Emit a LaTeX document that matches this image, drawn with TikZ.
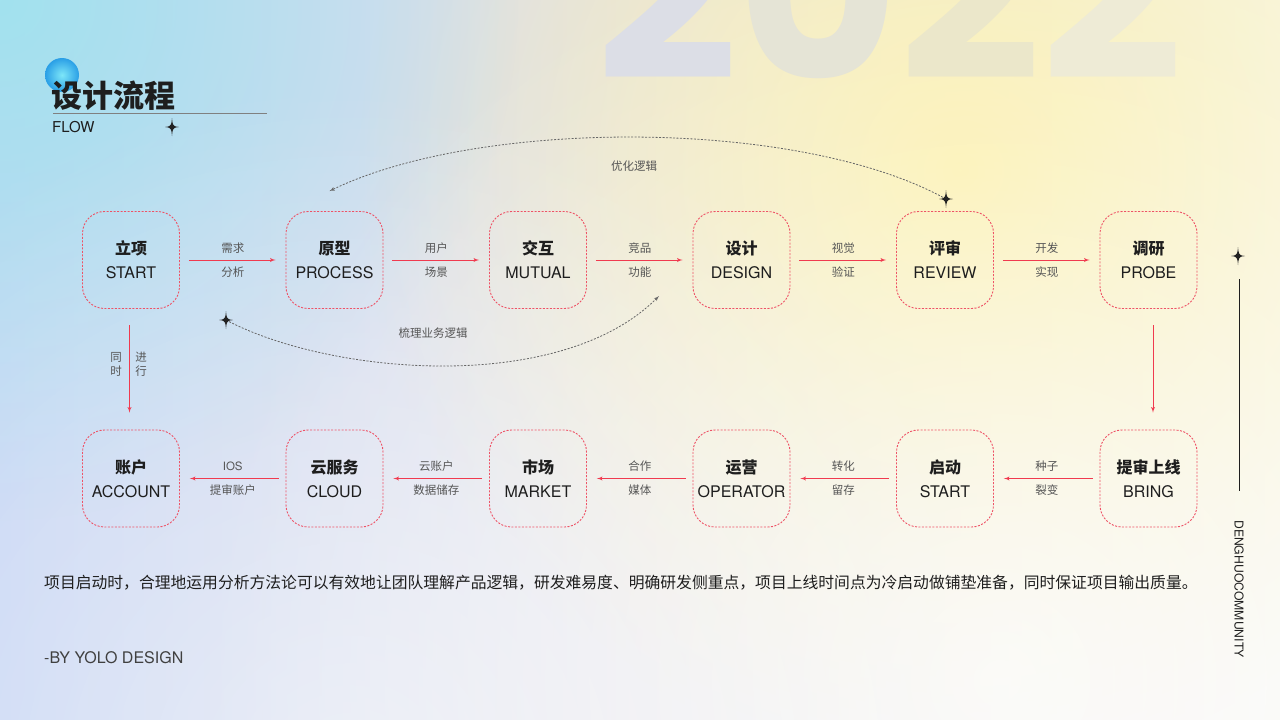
\documentclass[tikz,border=0pt]{standalone}
\usepackage{fontspec}
\setmainfont{TeX Gyre Heros}
\newfontfamily\cjk{Noto Sans CJK SC}
\newfontfamily\numfont{Poppins}
\usetikzlibrary{arrows,calc,fadings}

\definecolor{boxred}{HTML}{EE5266}
\definecolor{arrowred}{HTML}{F03A4F}
\definecolor{labelgray}{HTML}{555555}
\definecolor{textdark}{HTML}{1E1E1E}
\definecolor{dashgray}{HTML}{666666}
\definecolor{stardark}{HTML}{222222}
\definecolor{bgleft}{HTML}{C6D5F4}
\definecolor{bgmid}{HTML}{E3E2E9}
\definecolor{bgright}{HTML}{F7F7F3}
\definecolor{sunyellow}{HTML}{FCF0A8}
\definecolor{skycyan}{HTML}{A2E2EE}
\definecolor{ballin}{HTML}{7DE6F8}
\definecolor{ballout}{HTML}{2A9FE6}
\definecolor{wmA}{HTML}{DCDEE6}
\definecolor{wmB}{HTML}{E5E4D6}
\definecolor{wmC}{HTML}{EBE7CA}
\definecolor{wmD}{HTML}{EEEBD6}

\tikzfading[name=blob, inner color=transparent!0, outer color=transparent!100]

% four pointed sparkle
\newcommand{\spark}[1]{%
  \fill[stardark, shift={(#1)}] (0,-9) .. controls (0.8,-0.8) .. (7,0)
    .. controls (0.8,0.8) .. (0,9) .. controls (-0.8,0.8) .. (-7,0)
    .. controls (-0.8,-0.8) .. (0,-9) -- cycle;
  \fill[stardark] (#1) circle (2.6pt);}

\begin{document}
\begin{tikzpicture}[x=1pt,y=-1pt,>=latex']
    \tikzstyle{n}=[draw=boxred, dash pattern=on 2pt off 1.5pt, line width=0.9pt,
      rounded corners=22pt, minimum size=97pt, align=center, text=textdark,
      font=\fontsize{16}{24}\selectfont]
    \tikzstyle{lbl}=[text=labelgray, font=\cjk\fontsize{11.5}{14}\selectfont, inner sep=0pt]
    \tikzstyle{ar}=[->, arrowred, line width=0.9pt, shorten <=9pt, shorten >=10pt]
    \tikzstyle{flow}=[->, dashgray, line width=0.8pt, dash pattern=on 2pt off 1.5pt]

    % background
    \useasboundingbox (0,0) rectangle (1280,720);
    \clip (0,0) rectangle (1280,720);
    \shade[left color=bgleft, right color=bgright, middle color=bgmid] (0,0) rectangle (1280,720);
    \fill[sunyellow, path fading=blob] (960,170) circle (600pt);
    \fill[skycyan, path fading=blob] (0,0) circle (520pt);
    \fill[white, opacity=0.75, path fading=blob] (1000,680) circle (800pt);
    \fill[white, opacity=0.5, path fading=blob] (350,780) circle (700pt);
    \node[anchor=base west, inner sep=0pt,
      font=\numfont\bfseries\fontsize{248}{248}\selectfont] (yr) at (596,79)
      {\textcolor{wmA}{2}\textcolor{wmB}{0}\textcolor{wmC}{2}\textcolor{wmD}{2}};

    % title
    \shade[inner color=ballin, outer color=ballout] (62,75) circle (17pt);
    \node[anchor=west, inner sep=0pt, text=textdark,
      font=\cjk\bfseries\fontsize{31}{31}\selectfont] (title) at (51,96) {设计流程};
    \draw[gray, line width=0.8pt] (53,113) -- (267,113);
    \node[anchor=west, inner sep=0pt, text=textdark, font=\fontsize{15}{15}\selectfont]
      (flowtxt) at (52,127) {FLOW};
    \spark{172,127}

    % steps
    \coordinate (xdiff) at (203.5,0);
    \coordinate (ydiff) at (0,218.5);
    \node[n] (N0) at (131,260) {{\cjk\bfseries 立项}\\START};
    \node[n] (N1) at ($(xdiff) + (N0)$) {{\cjk\bfseries 原型}\\PROCESS};
    \node[n] (N2) at ($(xdiff) + (N1)$) {{\cjk\bfseries 交互}\\MUTUAL};
    \node[n] (N3) at ($(xdiff) + (N2)$) {{\cjk\bfseries 设计}\\DESIGN};
    \node[n] (N4) at ($(xdiff) + (N3)$) {{\cjk\bfseries 评审}\\REVIEW};
    \node[n] (N5) at ($(xdiff) + (N4)$) {{\cjk\bfseries 调研}\\PROBE};
    \node[n] (N01) at ($(ydiff) + (N0)$) {{\cjk\bfseries 账户}\\ACCOUNT};
    \node[n] (N11) at ($(ydiff) + (N1)$) {{\cjk\bfseries 云服务}\\CLOUD};
    \node[n] (N21) at ($(ydiff) + (N2)$) {{\cjk\bfseries 市场}\\MARKET};
    \node[n] (N31) at ($(ydiff) + (N3)$) {{\cjk\bfseries 运营}\\OPERATOR};
    \node[n] (N41) at ($(ydiff) + (N4)$) {{\cjk\bfseries 启动}\\START};
    \node[n] (N51) at ($(ydiff) + (N5)$) {{\cjk\bfseries 提审上线}\\BRING};

    \draw[ar] (N0) -- (N1) node[lbl, midway, yshift=12pt] {需求} node[lbl, midway, yshift=-12pt] {分析};
    \draw[ar] (N1) -- (N2) node[lbl, midway, yshift=12pt] {用户} node[lbl, midway, yshift=-12pt] {场景};
    \draw[ar] (N2) -- (N3) node[lbl, midway, yshift=12pt] {竞品} node[lbl, midway, yshift=-12pt] {功能};
    \draw[ar] (N3) -- (N4) node[lbl, midway, yshift=12pt] {视觉} node[lbl, midway, yshift=-12pt] {验证};
    \draw[ar] (N4) -- (N5) node[lbl, midway, yshift=12pt] {开发} node[lbl, midway, yshift=-12pt] {实现};
    \draw[ar, shorten <=7pt] (N51) -- (N41) node[lbl, midway, yshift=12pt] {种子} node[lbl, midway, yshift=-12pt] {裂变};
    \draw[ar, shorten <=7pt] (N41) -- (N31) node[lbl, midway, yshift=12pt] {转化} node[lbl, midway, yshift=-12pt] {留存};
    \draw[ar, shorten <=7pt] (N31) -- (N21) node[lbl, midway, yshift=12pt] {合作} node[lbl, midway, yshift=-12pt] {媒体};
    \draw[ar, shorten <=7pt] (N21) -- (N11) node[lbl, midway, yshift=12pt] {云账户} node[lbl, midway, yshift=-12pt] {数据储存};
    \draw[ar, shorten <=7pt] (N11) -- (N01) node[lbl, midway, yshift=12pt, font=\fontsize{11.5}{14}\selectfont] {IOS} node[lbl, midway, yshift=-12pt] {提审账户};
    \draw[ar, shorten <=16.5pt, shorten >=17pt] ([xshift=4.5pt]N5.south) -- ([xshift=4.5pt]N51.north);
    \draw[ar, shorten <=16.5pt, shorten >=17pt] ([xshift=-1.5pt]N0.south) -- ([xshift=-1.5pt]N01.north);
    \node[lbl, align=center] (tong) at (116,364) {同\\时};
    \node[lbl, align=center] (jin) at (141,364) {进\\行};

    % loops back
    \coordinate (S1) at (946,199);
    \coordinate (S2) at (226,320);
    \coordinate (E1) at ($(N1.north) + (-5,-20)$);
    \coordinate (E2) at (659,296);
    \draw[flow] (S1) .. controls (800,118) and (480,118) .. (E1);
    \draw[flow] (S2) .. controls (330,375) and (560,395) .. (E2);
    \node[lbl] (opt) at (634,166) {优化逻辑};
    \node[lbl] (biz) at (433,333) {梳理业务逻辑};
    \spark{S1}
    \spark{S2}

    % right side
    \spark{1238,256}
    \draw[textdark, line width=0.9pt] (1239,279) -- (1239,491);
    \node[rotate=-90, anchor=west, inner sep=0pt, text=textdark,
      font=\fontsize{12.2}{12.2}\selectfont] (brand) at (1239,520) {DENGHUOCOMMUNITY};

    % notes
    \node[anchor=west, inner sep=0pt, text=textdark, font=\cjk\fontsize{15.8}{16}\selectfont]
      (note) at (44,583) {项目启动时，合理地运用分析方法论可以有效地让团队理解产品逻辑，研发难易度、明确研发侧重点，项目上线时间点为冷启动做铺垫准备，同时保证项目输出质量。};
    \node[anchor=west, inner sep=0pt, text=textdark!85, font=\fontsize{16}{16}\selectfont]
      (author) at (44,658) {-BY YOLO DESIGN};
\end{tikzpicture}
\end{document}
